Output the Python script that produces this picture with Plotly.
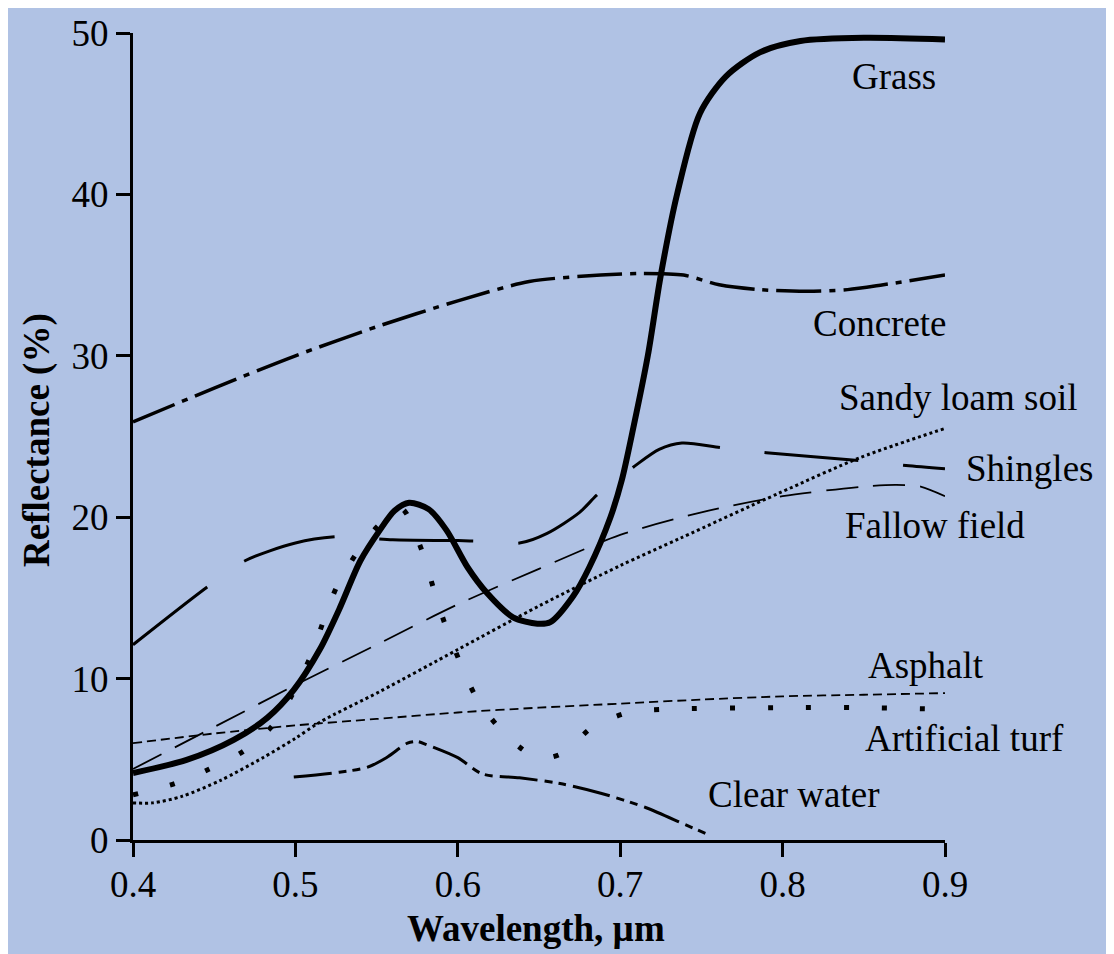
import plotly.graph_objects as go

# ---- data (wavelength in µm, reflectance in %) ----
grass_x = [0.40, 0.433, 0.462, 0.483, 0.499, 0.515, 0.527, 0.540, 0.552, 0.561, 0.570, 0.582, 0.593,
           0.606, 0.618, 0.634, 0.649, 0.657, 0.671, 0.681, 0.694, 0.701, 0.708, 0.717, 0.725, 0.735,
           0.749, 0.765, 0.786, 0.811, 0.85, 0.90]
grass_y = [4.15, 4.96, 6.2, 7.6, 9.3, 11.8, 14.3, 17.3, 19.2, 20.4, 20.9, 20.5, 19.2,
           16.9, 15.3, 13.8, 13.4, 13.5, 15.1, 16.9, 20.0, 22.3, 25.5, 30.0, 35.0, 40.0,
           45.0, 47.3, 48.8, 49.5, 49.7, 49.6]

concrete_x = [0.40, 0.45, 0.50, 0.55, 0.60, 0.644, 0.688, 0.714, 0.739, 0.761, 0.786, 0.815, 0.84, 0.862, 0.90]
concrete_y = [25.9, 28.0, 30.0, 31.8, 33.4, 34.6, 35.0, 35.1, 35.0, 34.4, 34.1, 34.0, 34.1, 34.4, 35.0]

shingles_x = [0.40, 0.446, 0.469, 0.50, 0.527, 0.56, 0.60, 0.618, 0.638, 0.655, 0.675, 0.686, 0.708,
              0.724, 0.738, 0.763, 0.790, 0.848, 0.876, 0.90]
shingles_y = [12.1, 15.7, 17.3, 18.4, 18.8, 18.6, 18.55, 18.5, 18.4, 19.0, 20.3, 21.4, 23.1,
              24.2, 24.6, 24.3, 24.0, 23.5, 23.2, 23.0]

fallow_x = [0.40, 0.45, 0.50, 0.55, 0.60, 0.65, 0.70, 0.75, 0.80, 0.85, 0.87, 0.885, 0.90]
fallow_y = [4.4, 7.0, 9.6, 12.1, 14.6, 16.8, 18.9, 20.3, 21.3, 21.9, 22.0, 21.9, 21.3]

sandy_x = [0.40, 0.412, 0.43, 0.454, 0.48, 0.50, 0.515, 0.552, 0.60, 0.65, 0.70, 0.737, 0.798, 0.848, 0.90]
sandy_y = [2.3, 2.3, 2.7, 3.7, 5.1, 6.3, 7.3, 9.2, 11.8, 14.5, 17.0, 18.7, 21.5, 23.7, 25.5]

asphalt_x = [0.40, 0.45, 0.50, 0.55, 0.60, 0.65, 0.70, 0.75, 0.80, 0.85, 0.90]
asphalt_y = [6.0, 6.6, 7.1, 7.5, 7.9, 8.2, 8.45, 8.7, 8.9, 9.0, 9.1]

turf_x = [0.40, 0.426, 0.447, 0.468, 0.486, 0.498, 0.509, 0.526, 0.545, 0.560, 0.566, 0.578, 0.585,
          0.592, 0.601, 0.611, 0.625, 0.643, 0.655, 0.665, 0.683, 0.705, 0.728, 0.80, 0.85, 0.90]
turf_y = [2.8, 3.5, 4.4, 5.5, 7.1, 9.0, 11.3, 15.8, 18.8, 20.3, 20.5, 17.9, 15.6,
          13.4, 11.1, 8.9, 7.0, 5.4, 5.1, 5.4, 7.0, 7.9, 8.1, 8.2, 8.2, 8.1]

water_x = [0.499, 0.527, 0.544, 0.556, 0.569, 0.575, 0.581, 0.60, 0.615, 0.638, 0.663, 0.688, 0.716, 0.74, 0.755]
water_y = [3.9, 4.2, 4.5, 5.1, 6.0, 6.1, 5.9, 5.1, 4.1, 3.85, 3.5, 2.9, 2.0, 0.95, 0.3]

labels = ["Grass", "Concrete", "Sandy loam soil", "Shingles", "Fallow field",
          "Asphalt", "Artificial turf", "Clear water"]
label_x = [0.8686, 0.860, 0.908, 0.952, 0.894, 0.888, 0.912, 0.807]
label_y = [47.3, 32.0, 27.4, 23.0, 19.5, 10.8, 6.3, 2.8]

x_ticks = [0.4, 0.5, 0.6, 0.7, 0.8, 0.9]
y_ticks = [0, 10, 20, 30, 40, 50]
X_RANGE = [0.4, 0.9]
Y_RANGE = [0, 50]

BG = "#B0C2E4"
FONT = "Liberation Serif, Times New Roman, serif"

fig = go.Figure()

def add(x, y, width, dash):
    fig.add_trace(go.Scatter(x=x, y=y, mode="lines",
                             line=dict(color="black", width=width, dash=dash, shape="spline", smoothing=0.8),
                             showlegend=False, hoverinfo="skip"))

add(concrete_x, concrete_y, 3.5, "45px,8px,6px,8px")
add(shingles_x, shingles_y, 3, "94px,45px")
add(fallow_x, fallow_y, 1.8, "32px,15px")
add(sandy_x, sandy_y, 3, "3px,3px")
add(asphalt_x, asphalt_y, 1.8, "9px,5px")
add(turf_x, turf_y, 5, "5px,33px")
add(water_x, water_y, 3, "38px,7px,8px,6px,8px,7px")
add(grass_x, grass_y, 6, "solid")

# labels placed in paper coordinates (converted from data units) so they may sit past the x range
for t, lx, ly in zip(labels, label_x, label_y):
    px = (lx - X_RANGE[0]) / (X_RANGE[1] - X_RANGE[0])
    py = (ly - Y_RANGE[0]) / (Y_RANGE[1] - Y_RANGE[0])
    fig.add_annotation(x=px, y=py, text=t, showarrow=False, xref="paper", yref="paper",
                       font=dict(family=FONT, size=37, color="black"),
                       xanchor="center", yanchor="middle")

fig.add_annotation(x=(536 - 133) / 812, y=(840 - 928) / 807, xref="paper", yref="paper",
                   text="<b>Wavelength, µm</b>", showarrow=False,
                   font=dict(family=FONT, size=37, color="black"), xanchor="center", yanchor="middle")
fig.add_annotation(x=(37 - 133) / 812, y=(840 - 440) / 807, xref="paper", yref="paper",
                   text="<b>Reflectance (%)</b>", showarrow=False, textangle=-90,
                   font=dict(family=FONT, size=37, color="black"), xanchor="center", yanchor="middle")

fig.update_layout(
    width=1114, height=954,
    margin=dict(l=125, r=177, t=25, b=122),
    paper_bgcolor=BG, plot_bgcolor=BG,
    font=dict(family=FONT, size=37, color="black"),
    xaxis=dict(range=X_RANGE, tickvals=x_ticks, ticktext=[f"{v:.1f}" for v in x_ticks],
               showgrid=False, zeroline=False, showline=True, linecolor="black", linewidth=3,
               ticks="outside", ticklen=14, tickwidth=3, tickcolor="black", ticklabelstandoff=-4,
               automargin=False, tickfont=dict(family=FONT, size=37)),
    yaxis=dict(range=Y_RANGE, tickvals=y_ticks, ticktext=[str(v) for v in y_ticks],
               showgrid=False, zeroline=False, showline=True, linecolor="black", linewidth=3,
               ticks="outside", ticklen=14, tickwidth=3, tickcolor="black",
               automargin=False, tickfont=dict(family=FONT, size=37)),
)

fig.write_html("out.html")
